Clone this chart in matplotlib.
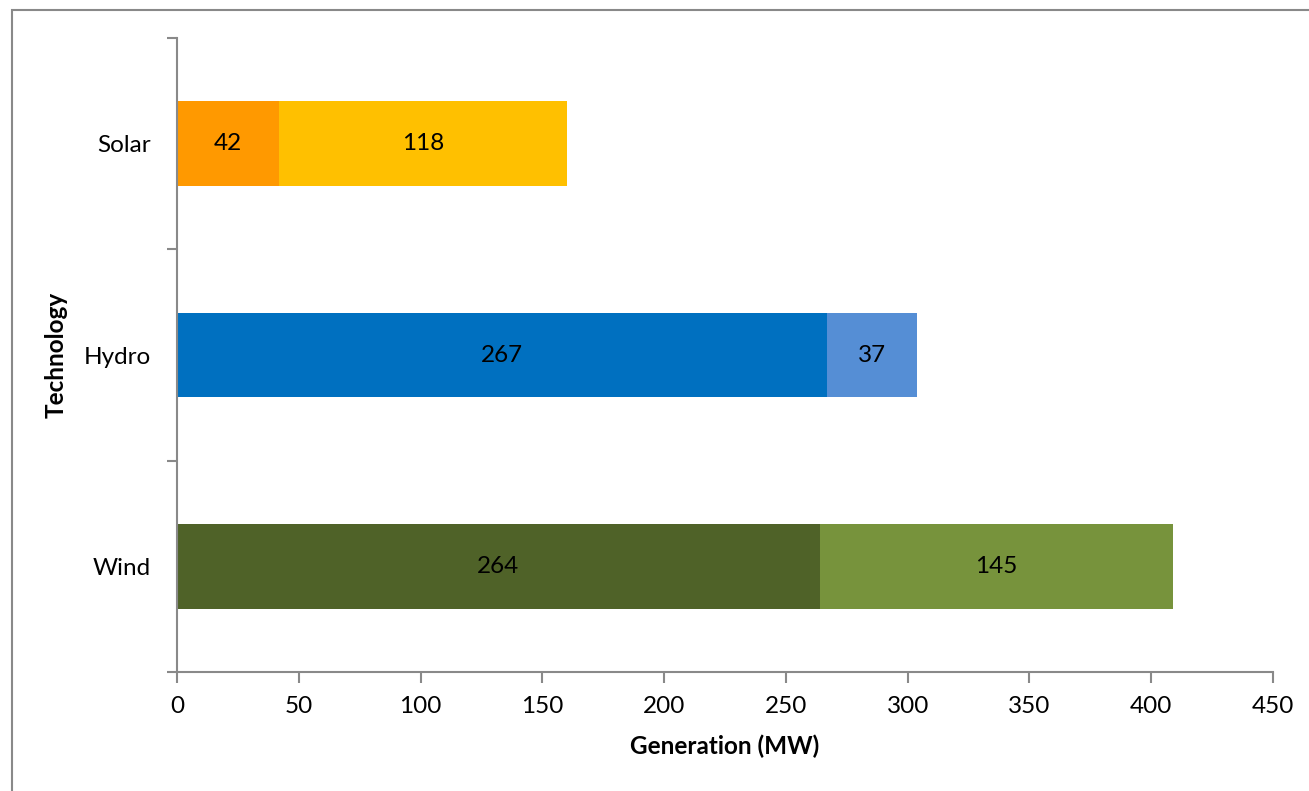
import matplotlib.pyplot as plt
from matplotlib.patches import Rectangle

plt.rcParams['font.family'] = ['Lato', 'DejaVu Sans']

technologies = ["Wind", "Hydro", "Solar"]
part1 = [264, 267, 42]
part2 = [145, 37, 118]
colors1 = ["#4F6228", "#0070C0", "#FF9900"]
colors2 = ["#77933C", "#558ED5", "#FFC000"]
xticks = [0, 50, 100, 150, 200, 250, 300, 350, 400, 450]

fs = 17.5

fig = plt.figure(figsize=(13.09, 7.91), dpi=100)
ax = fig.add_axes([177/1309, 1-672/791, (1273-177)/1309, (672-38)/791])

ypos = range(len(technologies))
ax.barh(ypos, part1, height=0.4, color=colors1)
ax.barh(ypos, part2, left=part1, height=0.4, color=colors2)

for i in ypos:
    ax.text(part1[i]/2, i, str(part1[i]), ha='center', va='center', fontsize=fs)
    ax.text(part1[i] + part2[i]/2, i, str(part2[i]), ha='center', va='center', fontsize=fs)

ax.set_xlim(0, 450)
ax.set_ylim(-0.5, 2.5)
ax.set_xticks(xticks)
ax.set_xticklabels([str(t) for t in xticks], fontsize=fs)
ax.set_yticks(list(ypos))
ax.set_yticklabels(technologies, fontsize=fs)
ax.tick_params(axis='y', which='major', length=0, pad=19)
ax.set_yticks([-0.5, 0.5, 1.5, 2.5], minor=True)
ax.tick_params(axis='y', which='minor', length=7, color='#898989', width=1.5)
ax.tick_params(axis='x', length=8, color='#898989', width=1.5, pad=9)

for s in ['top', 'right']:
    ax.spines[s].set_visible(False)
for s in ['left', 'bottom']:
    ax.spines[s].set_color('#898989')
    ax.spines[s].set_linewidth(1.5)

ax.set_xlabel("Generation (MW)", fontsize=fs, fontweight='bold', labelpad=13)
ax.set_ylabel("Technology", fontsize=fs, fontweight='bold', labelpad=11)

border = Rectangle((12/1309, -0.1), 1.2, 1 - 10/791 + 0.1, transform=fig.transFigure,
                   fill=False, edgecolor='#898989', linewidth=1.5, clip_on=False)
fig.add_artist(border)

fig.savefig("out.png", dpi=100)
